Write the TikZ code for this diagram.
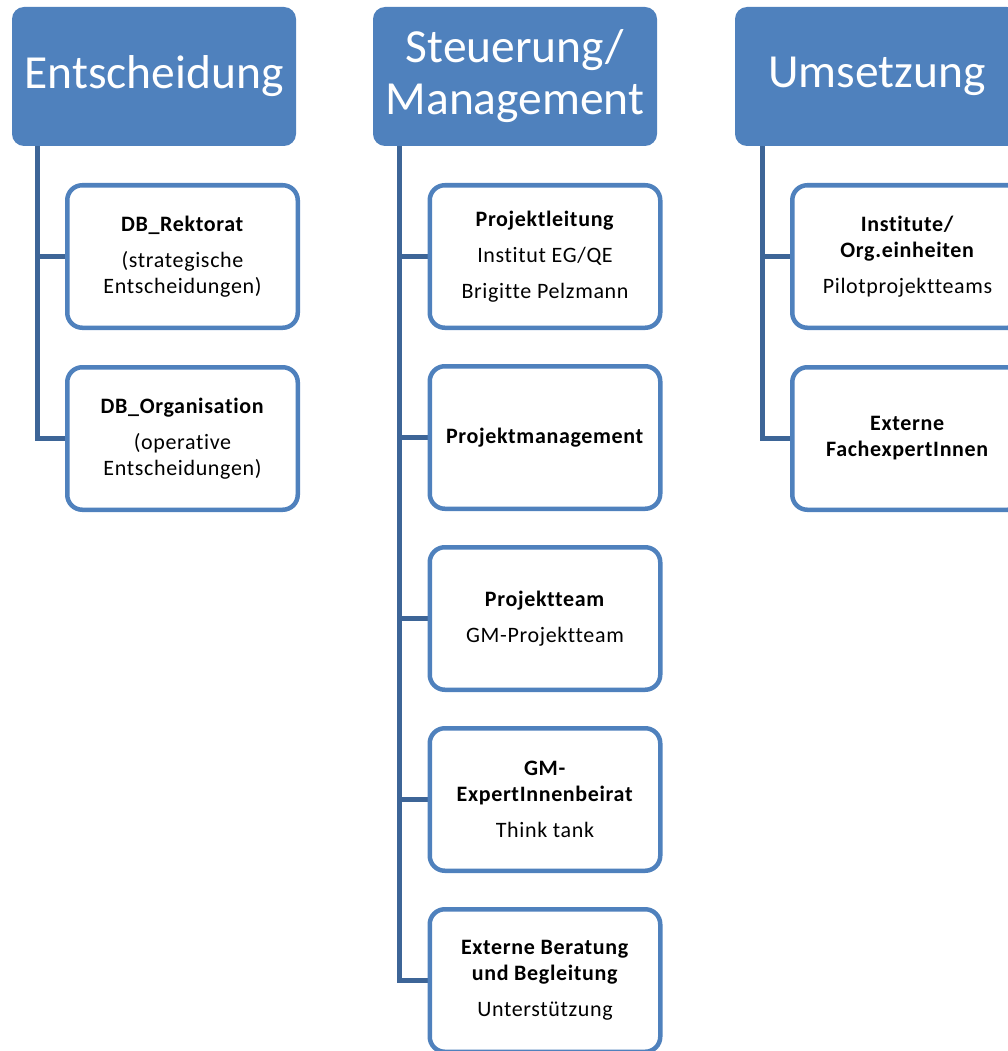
\documentclass[tikz,border=0pt]{standalone}
\usepackage{fontspec}
\setmainfont{Carlito}
\newfontfamily\childfont[LetterSpace=3,Ligatures=NoCommon]{Carlito}
\definecolor{hdrblue}{HTML}{4F81BD}
\definecolor{boxblue}{HTML}{4F81BD}
\definecolor{connblue}{HTML}{3D6597}
\tikzset{
  header/.style={rectangle, rounded corners=12pt, fill=hdrblue, draw=none, text=white,
    minimum width=284pt, minimum height=139pt, align=center, inner sep=0pt,
    font=\fontsize{47.5}{52}\selectfont},
  child/.style={rectangle, rounded corners=15pt, fill=white, draw=boxblue, line width=4.5pt,
    minimum width=230.5pt, minimum height=142.5pt, align=center, inner sep=0pt,
    font=\childfont\fontsize{22}{26}\selectfont},
  conn/.style={draw=connblue, line width=5pt}
}
\begin{document}
\begin{tikzpicture}[x=1pt,y=1pt]
\useasboundingbox (0,0) rectangle (1007,-1051);
% headers
\node[header] (h1) at (154,-76.5) {Entscheidung};
\node[header] (h2) at (515,-76.5) {Steuerung/\\Management};
\node[header] (h3) at (877,-76.5) {Umsetzung};
% trunk tops
\coordinate (t1) at ([xshift=26pt]h1.south west);
\coordinate (t2) at ([xshift=27pt]h2.south west);
\coordinate (t3) at ([xshift=28pt]h3.south west);
% child positions
\path (182.5,-256.5) coordinate (p11) (182.5,-438.5) coordinate (p12);
\path (545,-256.5) coordinate (p21) (545,-437.5) coordinate (p22) (545,-618.5) coordinate (p23)
      (545,-799.5) coordinate (p24) (545,-980.5) coordinate (p25);
\path (907.5,-256.5) coordinate (p31) (907.5,-438.5) coordinate (p32);
% connectors (drawn first; boxes on top)
\draw[conn] (t1) |- ([xshift=-115pt]p11);
\draw[conn] (t1) |- ([xshift=-115pt]p12);
\draw[conn] (t2) |- ([xshift=-115pt]p21);
\draw[conn] (t2) |- ([xshift=-115pt]p22);
\draw[conn] (t2) |- ([xshift=-115pt]p23);
\draw[conn] (t2) |- ([xshift=-115pt]p24);
\draw[conn] (t2) |- ([xshift=-115pt]p25);
\draw[conn] (t3) |- ([xshift=-115pt]p31);
\draw[conn] (t3) |- ([xshift=-115pt]p32);
% children
\node[child] (c11) at (p11) {\textbf{DB\_Rektorat}\\[10pt](strategische\\Entscheidungen)};
\node[child] (c12) at (p12) {\textbf{DB\_Organisation}\\[10pt](operative\\Entscheidungen)};
\node[child] (c21) at (p21) {\textbf{Projektleitung}\\[10pt]Institut EG/QE\\[10pt]Brigitte Pelzmann};
\node[child] (c22) at (p22) {\textbf{Projektmanagement}};
\node[child] (c23) at (p23) {\textbf{Projektteam}\\[10pt]GM-Projektteam};
\node[child] (c24) at (p24) {\textbf{GM-}\\\textbf{ExpertInnenbeirat}\\[10pt]Think tank};
\node[child] (c25) at (p25) {\textbf{Externe Beratung}\\\textbf{und Begleitung}\\[10pt]Unterstützung};
\node[child] (c31) at (p31) {\textbf{Institute/}\\\textbf{Org.einheiten}\\[10pt]Pilotprojektteams};
\node[child] (c32) at (p32) {\textbf{Externe}\\\textbf{FachexpertInnen}};
\end{tikzpicture}
\end{document}
